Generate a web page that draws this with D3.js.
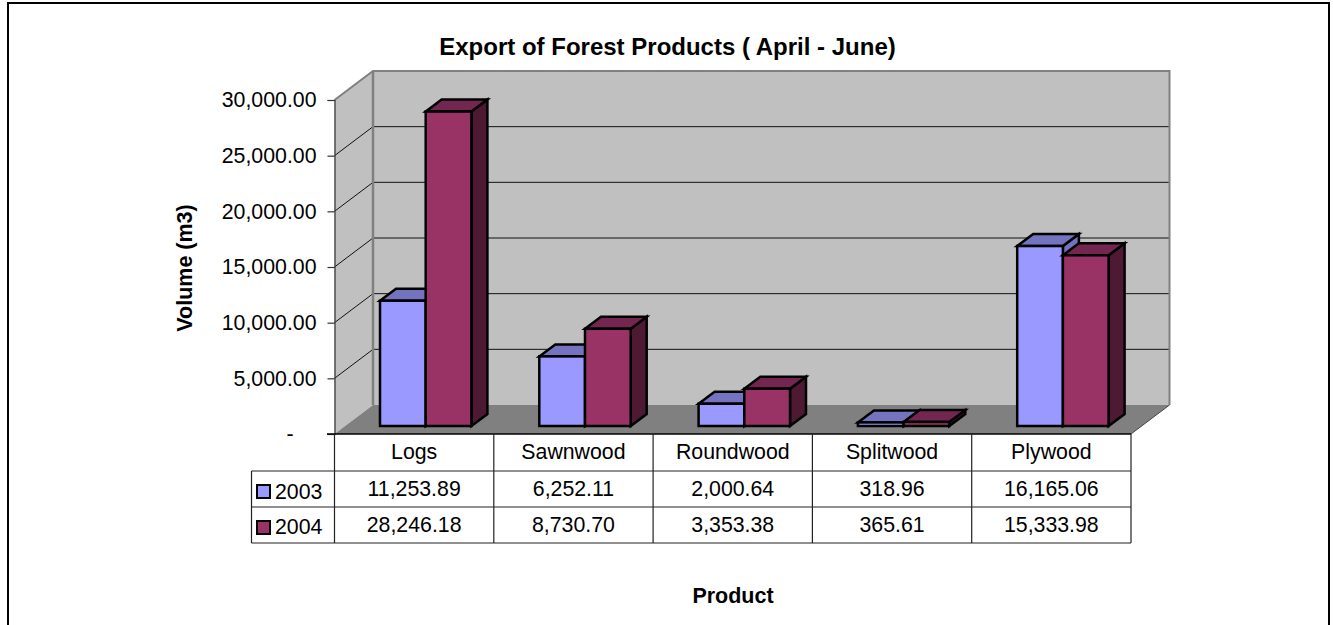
<!DOCTYPE html>
<html>
<head>
<meta charset="utf-8">
<script src="https://cdn.jsdelivr.net/npm/d3@7"></script>
<style>
  html, body { margin: 0; padding: 0; background: #fff; overflow: hidden; }
  text { font-family: "Liberation Sans", Arial, sans-serif; fill: #000; }
</style>
</head>
<body>
<div id="chart"></div>
<script>
const categories = ['Logs', 'Sawnwood', 'Roundwood', 'Splitwood', 'Plywood']
const years = ['2003', '2004']
const values2003 = [11253.89, 6252.11, 2000.64, 318.96, 16165.06]
const values2004 = [28246.18, 8730.7, 3353.38, 365.61, 15333.98]
const yTicks = [0, 5000, 10000, 15000, 20000, 25000, 30000]

const width = 1333, height = 625
const fontSize = 21.3

const colors = {
  2003: { front: '#9999ff', top: '#7373bf', side: '#7373bf' },
  2004: { front: '#993366', top: '#732650', side: '#4d1933' },
}

const svg = d3.select('#chart').append('svg')
  .attr('width', width).attr('height', height)
  .style('display', 'block')

// outer frame, bottom edge runs off the page
svg.append('rect')
  .attr('x', 8).attr('y', 3).attr('width', 1321).attr('height', 640)
  .attr('fill', '#fff').attr('stroke', '#000').attr('stroke-width', 2)

// scales
const x = d3.scaleBand().domain(categories).range([334.5, 1131])
const y = d3.scaleLinear().domain([0, 30000]).range([434, 100])
const xYear = d3.scaleBand().domain(years).range([0, 91.4])

// depth of the 3d box and of the bars
const depth = { x: 38.5, y: -29 }
const barDepth = { x: 16, y: -12 }
const barShift = { x: 45.5, y: -8 }

const poly = (pts) => pts.map((p) => p.join(',')).join(' ')

// walls and floor
const x0 = x.range()[0], x1 = x.range()[1]
const yBase = y(0), yTop = y(30000)

svg.append('polygon')
  .attr('points', poly([[x0 + depth.x, yTop + depth.y], [x1 + depth.x, yTop + depth.y], [x1 + depth.x, yBase + depth.y], [x0 + depth.x, yBase + depth.y]]))
  .attr('fill', '#c0c0c0')
svg.append('polygon')
  .attr('points', poly([[x0, yTop], [x0 + depth.x, yTop + depth.y], [x0 + depth.x, yBase + depth.y], [x0, yBase]]))
  .attr('fill', '#c0c0c0')
svg.append('polygon')
  .attr('points', poly([[x0, yBase], [x0 + depth.x, yBase + depth.y], [x1 + depth.x, yBase + depth.y], [x1, yBase]]))
  .attr('fill', '#808080')

// gridlines
const grid = svg.append('g')
yTicks.filter((d) => d > 0 && d < 30000).forEach((d) => {
  grid.append('polyline')
    .attr('points', poly([[x0, y(d)], [x0 + depth.x, y(d) + depth.y], [x1 + depth.x, y(d) + depth.y]]))
    .attr('fill', 'none').attr('stroke', '#111').attr('stroke-width', 1)
})

// wall edges
grid.append('polyline')
  .attr('points', poly([[x0, yTop], [x0 + depth.x, yTop + depth.y], [x1 + depth.x, yTop + depth.y], [x1 + depth.x, yBase + depth.y]]))
  .attr('fill', 'none').attr('stroke', '#808080').attr('stroke-width', 2)
grid.append('line')
  .attr('x1', x0 + depth.x).attr('x2', x0 + depth.x)
  .attr('y1', yTop + depth.y).attr('y2', yBase + depth.y)
  .attr('stroke', '#808080').attr('stroke-width', 2.5)
grid.append('line')
  .attr('x1', x1).attr('x2', x1 + depth.x)
  .attr('y1', yBase).attr('y2', yBase + depth.y)
  .attr('stroke', '#444').attr('stroke-width', 1)

// bars
const rows = [values2003, values2004]
const bars = svg.append('g')
categories.forEach((cat, i) => {
  years.forEach((yr, k) => {
    const left = x(cat) + barShift.x + xYear(yr)
    const right = left + xYear.bandwidth()
    const top = y(rows[k][i]) + barShift.y
    const bottom = y(0) + barShift.y
    const g = bars.append('g')
      .attr('stroke', '#000').attr('stroke-width', 2.5).attr('stroke-linejoin', 'miter')
    g.append('polygon')
      .attr('points', poly([[right, top], [right + barDepth.x, top + barDepth.y], [right + barDepth.x, bottom + barDepth.y], [right, bottom]]))
      .attr('fill', colors[yr].side)
    g.append('polygon')
      .attr('points', poly([[left, top], [left + barDepth.x, top + barDepth.y], [right + barDepth.x, top + barDepth.y], [right, top]]))
      .attr('fill', colors[yr].top)
    g.append('rect')
      .attr('x', left).attr('y', top)
      .attr('width', right - left).attr('height', bottom - top)
      .attr('fill', colors[yr].front)
  })
})

// y axis
const yAxis = svg.append('g')
  .attr('transform', `translate(${x0},0)`)
  .call(d3.axisLeft(y)
    .tickValues(yTicks)
    .tickSize(7)
    .tickPadding(11)
    .tickFormat((d) => (d === 0 ? '-' : d3.format(',.2f')(d))))
yAxis.select('.domain').attr('stroke', '#333').attr('stroke-width', 1.2)
yAxis.selectAll('.tick line').attr('stroke', '#333').attr('stroke-width', 1.2)
yAxis.selectAll('.tick text')
  .attr('font-size', fontSize)
  .attr('font-family', '"Liberation Sans", Arial, sans-serif')
  .attr('fill', '#000')
  .attr('dx', (d) => (d === 0 ? -23 : 0))

// data table
const rowLines = [471, 507, 543]
const table = svg.append('g').attr('stroke', '#222').attr('stroke-width', 1.2)
table.append('line').attr('x1', 327).attr('x2', x1).attr('y1', yBase).attr('y2', yBase).attr('stroke', '#000').attr('stroke-width', 1.5)
rowLines.forEach((ry) => {
  table.append('line').attr('x1', 251.5).attr('x2', x1).attr('y1', ry).attr('y2', ry)
})
table.append('line').attr('x1', 251.5).attr('x2', 251.5).attr('y1', rowLines[0]).attr('y2', rowLines[2])
categories.forEach((cat) => {
  table.append('line').attr('x1', x(cat)).attr('x2', x(cat)).attr('y1', yBase).attr('y2', rowLines[2])
})
table.append('line').attr('x1', x1).attr('x2', x1).attr('y1', yBase).attr('y2', rowLines[2])

const labels = svg.append('g').attr('font-size', fontSize).attr('text-anchor', 'middle')
categories.forEach((cat, i) => {
  const cx = x(cat) + x.bandwidth() / 2
  labels.append('text').attr('x', cx).attr('y', 458.5).text(cat)
  labels.append('text').attr('x', cx).attr('y', 496).text(d3.format(',.2f')(values2003[i]))
  labels.append('text').attr('x', cx).attr('y', 532).text(d3.format(',.2f')(values2004[i]))
})

// legend keys
years.forEach((yr, k) => {
  const baseY = 497 + k * 36
  svg.append('rect')
    .attr('x', 257).attr('y', baseY - 12).attr('width', 13).attr('height', 13)
    .attr('fill', colors[yr].front).attr('stroke', '#000').attr('stroke-width', 2)
  svg.append('text')
    .attr('x', 275).attr('y', baseY + 2 - k)
    .attr('font-size', fontSize).text(yr)
})

// titles
svg.append('text')
  .attr('x', 667.5).attr('y', 54.5)
  .attr('text-anchor', 'middle').attr('font-size', 24).attr('font-weight', 'bold')
  .text('Export of Forest Products ( April - June)')
svg.append('text')
  .attr('transform', 'translate(192,268) rotate(-90)')
  .attr('text-anchor', 'middle').attr('font-size', 21.5).attr('font-weight', 'bold')
  .text('Volume (m3)')
svg.append('text')
  .attr('x', 733).attr('y', 602.5)
  .attr('text-anchor', 'middle').attr('font-size', 21.5).attr('font-weight', 'bold')
  .text('Product')
</script>
</body>
</html>
